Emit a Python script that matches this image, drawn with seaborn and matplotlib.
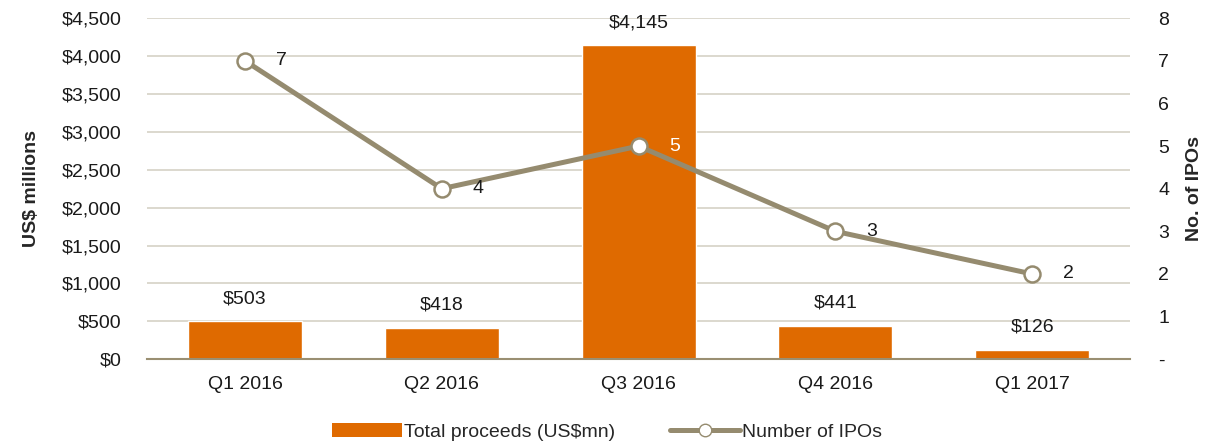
import pandas as pd
import matplotlib.pyplot as plt
import seaborn as sns
from matplotlib.patches import Patch
from matplotlib.lines import Line2D
from matplotlib.ticker import FuncFormatter

quarters = ['Q1 2016', 'Q2 2016', 'Q3 2016', 'Q4 2016', 'Q1 2017']
proceeds = [503, 418, 4145, 441, 126]
ipos = [7, 4, 5, 3, 2]

bar_color = '#df6a00'
line_color = '#958b6f'
grid_color = '#d9d5ca'
fs = 14

sns.set_theme(style='white')
plt.rcParams['font.family'] = ['Liberation Sans', 'DejaVu Sans']

df = pd.DataFrame({'quarter': quarters, 'proceeds': proceeds, 'ipos': ipos})

fig = plt.figure(figsize=(12.14, 4.44), dpi=100)
ax = fig.add_axes([0.1208, 0.191, 0.8104, 0.768])

sns.barplot(data=df, x='quarter', y='proceeds', color=bar_color, saturation=1,
            width=0.58, ax=ax, zorder=2)
ax.set_ylim(0, 4500)
ax.set_yticks(range(0, 4501, 500))
ax.yaxis.set_major_formatter(FuncFormatter(lambda v, p: f'${v:,.0f}'))
ax.grid(axis='y', color=grid_color, linewidth=1.3, zorder=0)
ax.set_axisbelow(True)
for s in ['top', 'right', 'left']:
    ax.spines[s].set_visible(False)
ax.spines['bottom'].set_color('#9a8f72')
ax.spines['bottom'].set_linewidth(1.5)
ax.tick_params(axis='both', length=0, labelsize=fs, colors='#1a1a1a')
ax.tick_params(axis='y', pad=18)
ax.tick_params(axis='x', pad=12)
ax.set_xlabel('')
ax.set_ylabel('US$ millions', fontsize=fs, fontweight='bold', labelpad=16)

for i, v in enumerate(proceeds):
    ax.annotate(f'${v:,}', (i, v), xytext=(0, 10), textcoords='offset points',
                ha='center', va='bottom', fontsize=fs, color='#1a1a1a')

ax2 = ax.twinx()
sns.lineplot(data=df, x='quarter', y='ipos', ax=ax2, color=line_color,
             linewidth=3.6, marker='o', markersize=11.5, markerfacecolor='white',
             markeredgecolor=line_color, markeredgewidth=1.8, sort=False, zorder=3)
ax2.set_ylim(0, 8)
ax2.set_yticks(range(0, 9))
ax2.yaxis.set_major_formatter(FuncFormatter(lambda v, p: '-' if v == 0 else f'{v:.0f}'))
for s in ax2.spines.values():
    s.set_visible(False)
ax2.tick_params(axis='y', length=0, labelsize=fs, colors='#1a1a1a', pad=20)
ax2.set_ylabel('No. of IPOs', fontsize=fs, fontweight='bold', labelpad=12)
ax.set_xlim(-0.5, 4.5)

for i, v in enumerate(ipos):
    col = 'white' if i == 2 else '#1a1a1a'
    ax2.annotate(str(v), (i, v), xytext=(22, 0), textcoords='offset points',
                 ha='left', va='center', fontsize=fs, color=col)

handles = [Patch(facecolor=bar_color, edgecolor='none'),
           Line2D([0], [0], color=line_color, linewidth=3.6, marker='o', markersize=9,
                  markerfacecolor='white', markeredgecolor=line_color)]
fig.legend(handles, ['Total proceeds (US$mn)', 'Number of IPOs'], loc='lower center',
           bbox_to_anchor=(0.5, -0.032), ncol=2, frameon=False, fontsize=fs,
           handlelength=3.6, handletextpad=0.1, columnspacing=2.8)

fig.savefig('out.png', dpi=100)
